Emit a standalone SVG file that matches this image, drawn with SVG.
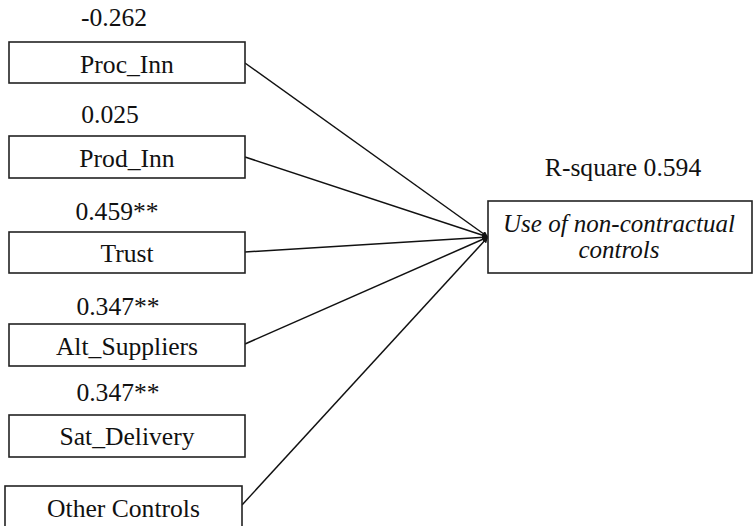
<svg xmlns="http://www.w3.org/2000/svg" width="753" height="526" viewBox="0 0 753 526">
<style>
.box{fill:#fff;stroke:#222;stroke-width:1.6}
text{font-family:'Liberation Serif',Tinos,'Times New Roman',Times,serif;font-size:25.6px;fill:#111;text-anchor:middle}
.i{font-style:italic;font-size:25px}
.c{stroke:#111;stroke-width:1.5;fill:none;marker-end:url(#ah)}
</style>
<defs>
<marker id="ah" viewBox="0 0 10 10" refX="10" refY="5" markerWidth="6" markerHeight="6" markerUnits="userSpaceOnUse" orient="auto">
<path d="M0,0 L10,5 L0,10 z" fill="#111"/>
</marker>
</defs>
<rect width="753" height="526" fill="#fff"/>
<g id="connectors">
<line class="c" x1="245" y1="63" x2="488" y2="237"/>
<line class="c" x1="245" y1="157" x2="488" y2="237"/>
<line class="c" x1="245" y1="252" x2="488" y2="237"/>
<line class="c" x1="245" y1="344" x2="488" y2="237"/>
<line class="c" x1="242" y1="505" x2="488" y2="237"/>
</g>
<g id="proc_inn">
<text x="114" y="26" font-family="Liberation Serif">-0.262</text>
<rect class="box" x="9" y="42" width="236" height="41"/>
<text x="127" y="73" font-family="Liberation Serif">Proc_Inn</text>
</g>
<g id="prod_inn">
<text x="110" y="123" font-family="Liberation Serif">0.025</text>
<rect class="box" x="9" y="136" width="236" height="42"/>
<text x="127" y="167" font-family="Liberation Serif">Prod_Inn</text>
</g>
<g id="trust">
<text x="117" y="220" font-family="Liberation Serif">0.459**</text>
<rect class="box" x="9" y="232" width="236" height="41"/>
<text x="127" y="262" font-family="Liberation Serif">Trust</text>
</g>
<g id="alt_suppliers">
<text x="118" y="315" font-family="Liberation Serif">0.347**</text>
<rect class="box" x="9" y="324" width="236" height="42"/>
<text x="127" y="355" font-family="Liberation Serif">Alt_Suppliers</text>
</g>
<g id="sat_delivery">
<text x="118" y="401" font-family="Liberation Serif">0.347**</text>
<rect class="box" x="9" y="415" width="236" height="42"/>
<text x="127" y="445" font-family="Liberation Serif">Sat_Delivery</text>
</g>
<g id="other_controls">
<rect class="box" x="5" y="486" width="237" height="45"/>
<text x="123.5" y="517" font-family="Liberation Serif">Other Controls</text>
</g>
<g id="use_noncontractual">
<text x="623" y="176" font-family="Liberation Serif">R-square 0.594</text>
<rect class="box" x="488" y="201" width="264" height="72"/>
<text class="i" x="619" y="232" font-family="Liberation Serif">Use of non-contractual</text>
<text class="i" x="619" y="258" font-family="Liberation Serif">controls</text>
</g>
</svg>
